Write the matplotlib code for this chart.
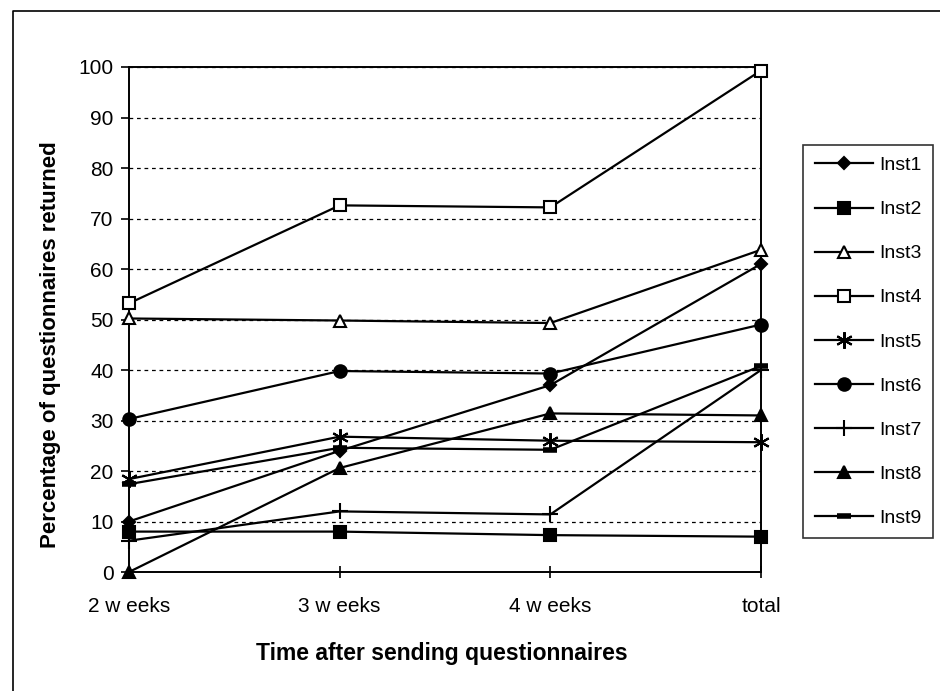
import matplotlib.pyplot as plt
from matplotlib.lines import Line2D

plt.rcParams['font.family'] = ['Liberation Sans', 'DejaVu Sans']

weeks = ["2 w eeks", "3 w eeks", "4 w eeks", "total"]
names = ["Inst1", "Inst2", "Inst3", "Inst4", "Inst5", "Inst6", "Inst7", "Inst8", "Inst9"]

inst1 = [10, 24, 37, 61]
inst2 = [8, 8, 7.3, 7]
inst3 = [50.2, 49.8, 49.3, 63.8]
inst4 = [53.2, 72.6, 72.2, 99.3]
inst5 = [18.4, 26.8, 26, 25.7]
inst6 = [30.3, 39.8, 39.3, 49]
inst7 = [6.2, 12, 11.4, 40]
inst8 = [0, 20.6, 31.4, 31]
inst9 = [17.4, 24.6, 24.2, 40.8]
series = [inst1, inst2, inst3, inst4, inst5, inst6, inst7, inst8, inst9]

# marker, face colour, size
styles = [
    ("D", "black", 6),
    ("s", "black", 8),
    ("^", "white", 9),
    ("s", "white", 9),
    ((6, 2, 0), "black", 12),
    ("o", "black", 9),
    ("+", "black", 11),
    ("^", "black", 9),
    ("_", "black", 10),
]

fig = plt.figure(figsize=(9.4, 6.91), dpi=100)
ax = fig.add_axes([129 / 940, 1 - 572 / 691, (761 - 129) / 940, (572 - 67) / 691])

x = list(range(len(weeks)))
for name, vals, (m, fc, ms) in zip(names, series, styles):
    mew = 4 if m == "_" else 1.5
    ax.plot(x, vals, color="black", lw=1.6, marker=m, markersize=ms,
            markerfacecolor=fc, markeredgecolor="black", markeredgewidth=mew,
            label=name, clip_on=False, zorder=3)

ax.set_xlim(0, 3)
ax.set_ylim(0, 100)
ax.set_yticks(range(0, 101, 10))
ax.set_xticks(x)
ax.set_xticklabels(weeks)
ax.tick_params(axis="both", labelsize=15, color="black", width=1.2)
ax.tick_params(axis="y", length=6, direction="out", pad=5)
ax.tick_params(axis="x", length=8, direction="inout", pad=14)
for s in ax.spines.values():
    s.set_linewidth(1.4)
ax.yaxis.grid(True, linestyle=(0, (3, 3)), color="black", lw=0.9)
ax.set_axisbelow(True)

ax.set_ylabel("Percentage of questionnaires returned", fontsize=16, fontweight="bold")
ax.yaxis.set_label_coords((61 - 129) / 632, (572 - 345) / 505)
ax.set_xlabel("Time after sending questionnaires", fontsize=16.5, fontweight="bold")
ax.xaxis.set_label_coords((442 - 129) / 632, -(642 - 572) / 505)

leg = fig.legend(loc="upper left", bbox_to_anchor=(803 / 940, 1 - 145 / 691),
                 frameon=True, fancybox=False, edgecolor="black", fontsize=14,
                 handlelength=3.0, handletextpad=0.3, labelspacing=1.36,
                 borderpad=0.6, borderaxespad=0)
leg.get_frame().set_linewidth(1.2)

# scanned page frame: only top and left edges are visible
fig.add_artist(Line2D([13 / 940, 13 / 940, 1], [0, 1 - 11 / 691, 1 - 11 / 691],
                      transform=fig.transFigure, color="black", lw=1.2))

fig.savefig("out.png", dpi=100)
